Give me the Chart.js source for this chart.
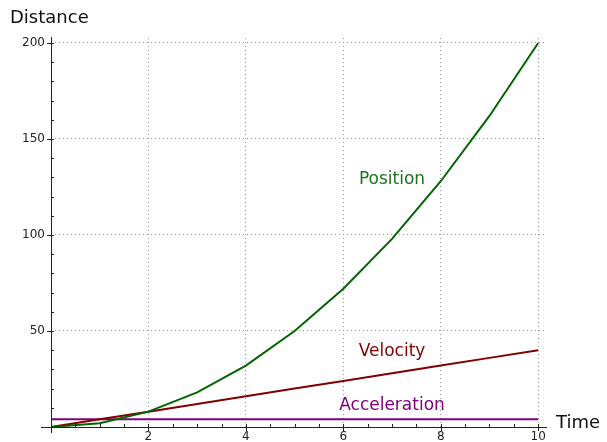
<!DOCTYPE html>
<html>
<head>
<meta charset="utf-8">
<script src="https://cdn.jsdelivr.net/npm/chart.js@4"></script>
<style>
  html, body { margin: 0; padding: 0; background: #fff; }
  #wrap { width: 607px; height: 442px; position: relative; }
</style>
</head>
<body>
<div id="wrap"><canvas id="chart"></canvas></div>
<script>
// Data
const times = [0, 1, 2, 3, 4, 5, 6, 7, 8, 9, 10];
const position = [0, 2, 8, 18, 32, 50, 72, 98, 128, 162, 200];
const velocity = [0, 4, 8, 12, 16, 20, 24, 28, 32, 36, 40];
const acceleration = [4, 4, 4, 4, 4, 4, 4, 4, 4, 4, 4];
const xTicks = [2, 4, 6, 8, 10];
const yTicks = [50, 100, 150, 200];

const FONT = 'DejaVu Sans';

const toPoints = vals => times.map((t, i) => ({ x: t, y: vals[i] }));

// Curve labels, placed in data coordinates
const curveLabels = [
    { text: 'Position', x: 7.0, y: 129, color: '#1a741a' },
    { text: 'Velocity', x: 7.0, y: 39.3, color: '#800000' },
    { text: 'Acceleration', x: 7.0, y: 11.2, color: '#800080' }
];

// Axes, minor/major ticks and text labels
const axesPlugin = {
    id: 'sageAxes',
    afterDraw(chart) {
        const c = chart.ctx;
        const xs = chart.scales.x, ys = chart.scales.y;
        const x0 = xs.getPixelForValue(0), y0 = ys.getPixelForValue(0);
        c.save();
        c.strokeStyle = '#222';
        c.lineWidth = 1;
        c.beginPath();
        c.moveTo(41, Math.round(y0) + 0.5);
        c.lineTo(547, Math.round(y0) + 0.5);
        c.moveTo(Math.round(x0) + 0.5, 37);
        c.lineTo(Math.round(x0) + 0.5, 433);
        // minor x ticks every 0.5
        for (let v = 0.5; v <= 10; v += 0.5) {
            const px = Math.round(xs.getPixelForValue(v)) + 0.5;
            c.moveTo(px, y0);
            c.lineTo(px, y0 - 3);
        }
        xTicks.forEach(v => {
            const px = Math.round(xs.getPixelForValue(v)) + 0.5;
            c.moveTo(px, y0);
            c.lineTo(px, y0 + 4);
        });
        // minor y ticks every 10
        for (let v = 10; v <= 200; v += 10) {
            const py = Math.round(ys.getPixelForValue(v)) + 0.5;
            c.moveTo(x0, py);
            c.lineTo(x0 + 3, py);
        }
        yTicks.forEach(v => {
            const py = Math.round(ys.getPixelForValue(v)) + 0.5;
            c.moveTo(x0, py);
            c.lineTo(x0 - 4, py);
        });
        c.stroke();

        c.font = '18px ' + FONT;
        c.fillStyle = '#111';
        c.textBaseline = 'middle';
        c.textAlign = 'left';
        c.fillText('Distance', 10, 18);
        c.fillText('Time', 556, 423);

        c.font = '17px ' + FONT;
        c.textAlign = 'center';
        curveLabels.forEach(l => {
            c.fillStyle = l.color;
            c.fillText(l.text, xs.getPixelForValue(l.x), ys.getPixelForValue(l.y));
        });
        c.restore();
    }
};

const gridOpts = {
    color: '#9a9a9a',
    lineWidth: 1,
    drawTicks: false
};

new Chart(document.getElementById('chart'), {
    type: 'line',
    data: {
        datasets: [
            { label: 'Position', data: toPoints(position), borderColor: '#006400', borderWidth: 2, pointRadius: 0, tension: 0, fill: false },
            { label: 'Velocity', data: toPoints(velocity), borderColor: '#800000', borderWidth: 2, pointRadius: 0, tension: 0, fill: false },
            { label: 'Acceleration', data: toPoints(acceleration), borderColor: '#800080', borderWidth: 2, pointRadius: 0, tension: 0, fill: false }
        ]
    },
    options: {
        responsive: true,
        maintainAspectRatio: false,
        animation: false,
        layout: { padding: { left: 0, right: 62, top: 38, bottom: 0 } },
        plugins: { legend: { display: false }, tooltip: { enabled: false } },
        scales: {
            x: {
                type: 'linear',
                min: 0,
                max: 10.14,
                afterBuildTicks: s => { s.ticks = xTicks.map(v => ({ value: v })); },
                afterFit: s => { s.height = 15; },
                border: { display: false, dash: [1, 3] },
                grid: gridOpts,
                ticks: { color: '#222', font: { family: FONT, size: 12 }, padding: 3, maxRotation: 0 }
            },
            y: {
                type: 'linear',
                min: 0,
                max: 202.6,
                afterBuildTicks: s => { s.ticks = yTicks.map(v => ({ value: v })); },
                afterFit: s => { s.width = 51; },
                border: { display: false, dash: [1, 3] },
                grid: gridOpts,
                ticks: { color: '#222', font: { family: FONT, size: 12 }, padding: 6 }
            }
        }
    },
    plugins: [axesPlugin]
});
</script>
</body>
</html>
